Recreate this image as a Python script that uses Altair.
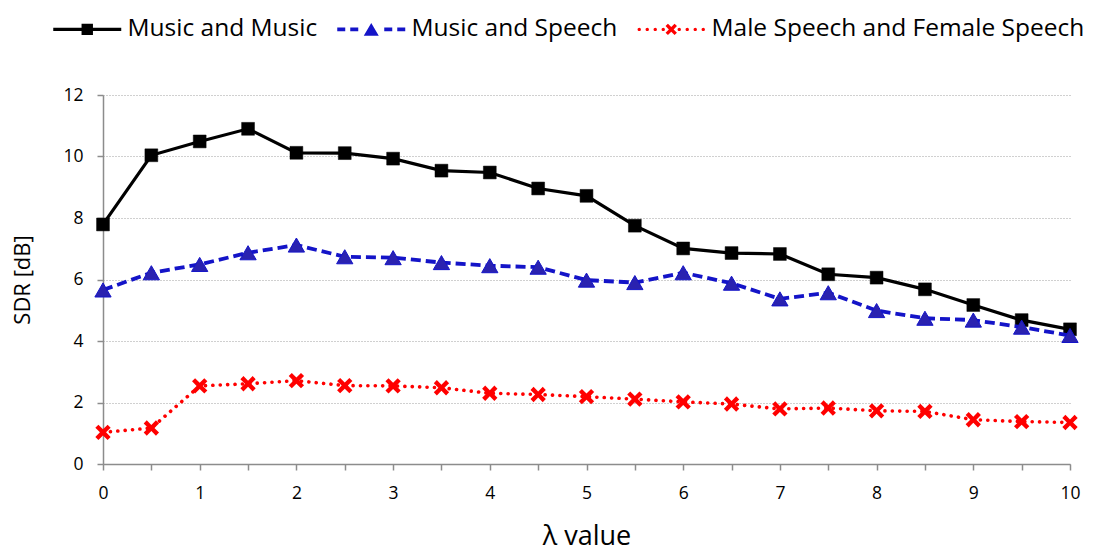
import altair as alt
import pandas as pd

# lambda values on the x axis
lam = [0, 0.5, 1, 1.5, 2, 2.5, 3, 3.5, 4, 4.5, 5, 5.5, 6, 6.5, 7, 7.5, 8, 8.5, 9, 9.5, 10]

# SDR [dB] for each mixture type
music_music = [7.79, 10.04, 10.49, 10.90, 10.12, 10.11, 9.93, 9.54, 9.48, 8.96, 8.72,
               7.75, 7.01, 6.86, 6.83, 6.17, 6.06, 5.68, 5.17, 4.68, 4.38]
music_speech = [5.66, 6.22, 6.49, 6.87, 7.12, 6.74, 6.71, 6.55, 6.45, 6.40, 5.98,
                5.90, 6.22, 5.88, 5.37, 5.57, 4.99, 4.74, 4.68, 4.45, 4.18]
male_female = [1.03, 1.17, 2.54, 2.61, 2.71, 2.55, 2.54, 2.48, 2.30, 2.26, 2.19,
               2.11, 2.02, 1.95, 1.79, 1.82, 1.73, 1.71, 1.44, 1.38, 1.35]

series_names = ["Music and Music", "Music and Speech", "Male Speech and Female Speech"]

x_ticks = [0, 0.5, 1, 1.5, 2, 2.5, 3, 3.5, 4, 4.5, 5, 5.5, 6, 6.5, 7, 7.5, 8, 8.5, 9, 9.5, 10]
y_ticks = [0, 2, 4, 6, 8, 10, 12]

df = pd.DataFrame({
    "lam": lam * 3,
    "sdr": music_music + music_speech + male_female,
    "series": [name for name in series_names for _ in lam],
})

FONT = "Open Sans"
BLACK, BLUE, RED = "#000000", "#1414c8", "#ff0000"


# ---- symbol path helpers (unit coordinates, scaled by sqrt(size)/2) ----
def rect(x0, x1, h):
    return f"M{x0:.3f},{-h:.3f}H{x1:.3f}V{h:.3f}H{x0:.3f}Z"


def dot(cx, r):
    return (f"M{cx - r:.3f},0A{r:.3f},{r:.3f} 0 1,0 {cx + r:.3f},0"
            f"A{r:.3f},{r:.3f} 0 1,0 {cx - r:.3f},0Z")


def cross(cx, s, t):
    pts = [(-1, -1 + t), (-1 + t, -1), (0, -t), (1 - t, -1), (1, -1 + t), (t, 0),
           (1, 1 - t), (1 - t, 1), (0, t), (-1 + t, 1), (-1, 1 - t), (-t, 0)]
    d = "".join(("M" if i == 0 else "L") + f"{cx + px * s:.3f},{py * s:.3f}"
                for i, (px, py) in enumerate(pts))
    return d + "Z"


def triangle(cx, hw, hh):
    return (f"M{cx:.3f},{-hh:.3f}L{cx + hw:.3f},{hh:.3f}"
            f"L{cx - hw:.3f},{hh:.3f}Z")


X_MARK = cross(0, 1, 0.4)

# legend keys: line sample with the marker in the middle (symbolSize 144 -> 6 px per unit)
K = 6.0
def u(px):
    return -1 + px / K

mid = u(34)
legend_paths = [
    rect(u(0), u(68), 0.27) + rect(mid - 0.95, mid + 0.95, 0.95),
    "".join(rect(u(a), u(b), 0.3) for a, b in [(0, 8), (13, 21), (47, 55), (60, 68)])
    + triangle(mid, 1.25, 1.08),
    "".join(dot(u(p), 0.28) for p in [2, 10, 18, 26, 42, 50, 58, 66])
    + cross(mid, 0.95, 0.42),
]

line_styles = [
    dict(color=BLACK, strokeWidth=3.2),
    dict(color=BLUE, strokeWidth=3.8, strokeDash=[10, 5]),
    dict(color=RED, strokeWidth=3.6, strokeDash=[0.1, 7.3], strokeCap="round"),
]
marker_styles = [
    dict(shape="square", size=165, fill=BLACK, stroke=BLACK, strokeWidth=0.5),
    dict(shape="triangle-up", size=265, fill="#2a22b0", stroke=BLUE, strokeWidth=1),
    dict(shape=X_MARK, size=235, fill=RED, strokeWidth=0),
]

x_enc = alt.X(
    "lam:Q",
    scale=alt.Scale(domain=[0, 10], nice=False, zero=False),
    axis=alt.Axis(
        values=x_ticks, grid=False, tickSize=6, labelPadding=14,
        labelExpr="datum.value % 1 === 0 ? format(datum.value, 'd') : ''",
        labelFontSize=17.5, labelOverlap=False, labelFlush=False,
        title="λ  value", titleFontSize=27, titlePadding=22,
    ),
)
y_enc = alt.Y(
    "sdr:Q",
    scale=alt.Scale(domain=[0, 12], nice=False),
    axis=alt.Axis(
        values=y_ticks, grid=True, gridColor="#a0a0a0", gridDash=[1, 2], gridWidth=1,
        tickSize=6, labelPadding=14, labelFontSize=17.5,
        title="SDR [dB]", titleFontSize=22, titlePadding=28,
    ),
)

layers = []
for name, ls, ms in zip(series_names, line_styles, marker_styles):
    sub = alt.Chart(df).transform_filter(alt.datum.series == name)
    layers.append(sub.mark_line(**ls).encode(x=x_enc, y=y_enc))
    layers.append(sub.mark_point(filled=True, opacity=1, **ms).encode(x=x_enc, y=y_enc))

legend = alt.Legend(
    title=None, orient="none", direction="horizontal", legendX=-56, legendY=-78,
    symbolSize=144, symbolStrokeWidth=0, labelOffset=56, labelLimit=600,
    labelFont=FONT, labelFontSize=24.5, labelColor="#000000", columnPadding=13,
    padding=0,
)
key_layer = (
    alt.Chart(df)
    .transform_filter("false")
    .mark_point(filled=True, opacity=1)
    .encode(
        x=x_enc, y=y_enc,
        color=alt.Color("series:N", scale=alt.Scale(domain=series_names, range=[BLACK, BLUE, RED]),
                        legend=legend),
        shape=alt.Shape("series:N", scale=alt.Scale(domain=series_names, range=legend_paths),
                        legend=legend),
    )
)

chart = (
    alt.layer(*layers, key_layer)
    .properties(
        width=967, height=369, autosize="none",
        padding={"left": 103, "top": 95, "right": 23, "bottom": 92},
    )
    .configure_view(stroke=None)
    .configure_axis(
        labelFont=FONT, titleFont=FONT, labelColor="#000000", titleColor="#000000",
        titleFontWeight="normal", domainColor="#8c8c8c", domainWidth=1.5,
        tickColor="#8c8c8c", tickWidth=1.5,
    )
)

chart.save("out.html", embed_options={"renderer": "svg", "actions": False})
